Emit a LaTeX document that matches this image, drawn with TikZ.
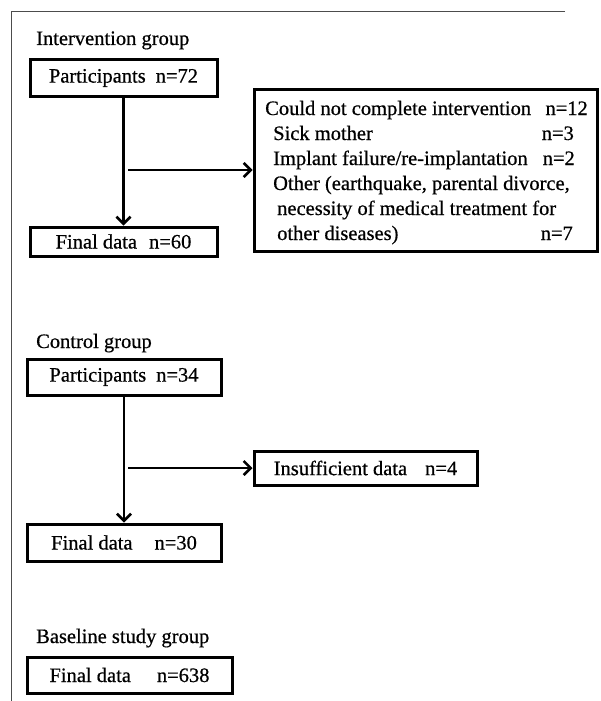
\documentclass[tikz,border=0pt]{standalone}
\usepackage{fontspec}
\setmainfont{Liberation Serif}[FakeBold=0.6]
\usetikzlibrary{arrows.meta}
\begin{document}
\begin{tikzpicture}[x=1pt,y=-1pt,
  txt/.style={inner sep=0pt,font=\fontsize{20.5}{25}\selectfont},
  box/.style={txt,draw,line width=3pt},
  flow/.style={line width=2.6pt,-{Straight Barb[length=7pt,width=14pt]}},
  frame/.style={line width=1pt,black!70}]
\useasboundingbox (0,0) rectangle (601,701);
% outer frame
\coordinate (ftr) at (565,12);
\coordinate (ftl) at (11,12);
\coordinate (fbl) at (11,701);
\draw[frame] (ftr) -- (ftl) -- (fbl);

% Intervention group
\node[txt,anchor=base west] (t1) at (36,45) {Intervention group};
\node[box,minimum width=187pt,minimum height=36pt] (p1) at (123.5,78) {Participants\hspace{10pt}n=72};
\node[box,minimum width=187pt,minimum height=29pt] (f1) at (123.5,241.5) {Final data\hspace{12pt}n=60};
\node[box,minimum width=343pt,minimum height=162pt] (r1) at (425.5,170) {};
\node[txt,anchor=base west] (r1a) at (265,115) {Could not complete intervention};
\node[txt,anchor=base east] (r1an) at (588,115) {n=12};
\node[txt,anchor=base west] (r1b) at (273,140) {Sick mother};
\node[txt,anchor=base east] (r1bn) at (574,140) {n=3};
\node[txt,anchor=base west] (r1c) at (273,165) {Implant failure/re-implantation};
\node[txt,anchor=base east] (r1cn) at (575,165) {n=2};
\node[txt,anchor=base west] (r1d) at (273,190) {Other (earthquake, parental divorce,};
\node[txt,anchor=base west] (r1e) at (277,215) {necessity of medical treatment for};
\node[txt,anchor=base west] (r1f) at (277,240) {other diseases)};
\node[txt,anchor=base east] (r1fn) at (573,240) {n=7};
\draw[flow] (p1) -- (f1);
\coordinate (j1) at (128,170);
\draw[flow] (j1) -- (r1.west);

% Control group
\node[txt,anchor=base west] (t2) at (36,348) {Control group};
\node[box,minimum width=194pt,minimum height=36pt] (p2) at (124,377) {Participants\hspace{10pt}n=34};
\node[box,minimum width=194pt,minimum height=37pt] (f2) at (124,542.5) {Final data\hspace{22pt}n=30};
\node[box,minimum width=223pt,minimum height=34pt] (r2) at (365.5,468) {Insufficient data\hspace{18pt}n=4};
\draw[flow] (p2) -- (f2);
\coordinate (j2) at (128,468);
\draw[flow] (j2) -- (r2.west);

% Baseline study group
\node[txt,anchor=base west] (t3) at (36,643) {Baseline study group};
\node[box,minimum width=205pt,minimum height=36pt] (f3) at (129.5,675) {Final data\hspace{26pt}n=638};
\end{tikzpicture}
\end{document}
